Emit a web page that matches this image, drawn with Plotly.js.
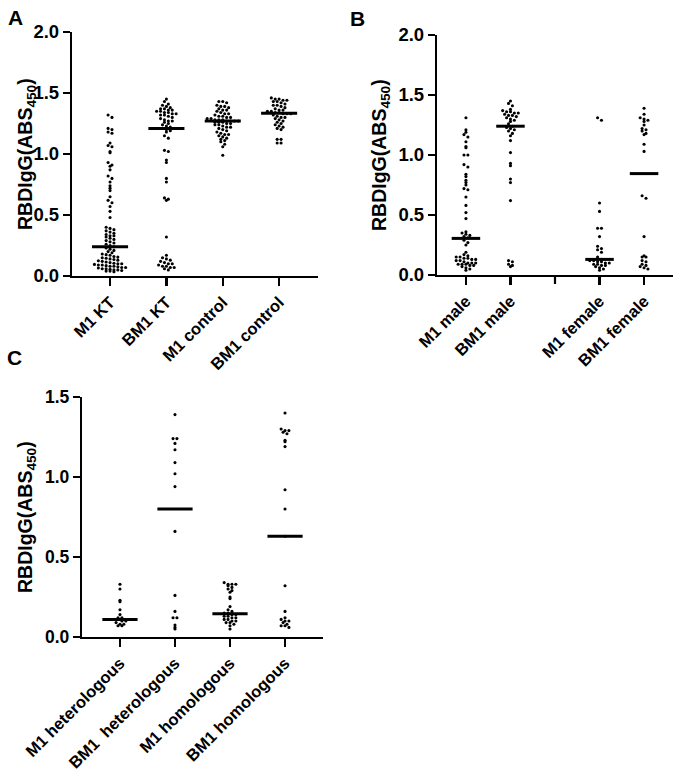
<!DOCTYPE html>
<html>
<head>
<meta charset="utf-8">
<script src="https://cdn.plot.ly/plotly-3.0.1.min.js"></script>
<style>
  html, body { margin: 0; padding: 0; background: #fff; }
  #chart { width: 685px; height: 778px; }
</style>
</head>
<body>
<div id="chart"></div>
<script>
// Panel A: kidney transplant vs control
const catsA = ['M1 KT', 'BM1 KT', 'M1 control', 'BM1 control'];
const m1KT = [1.32, 1.30, 1.21, 1.20, 1.18, 1.17, 1.09, 1.07, 1.06, 1.02, 1.01, 0.93, 0.91, 0.90, 0.87,
  0.82, 0.80, 0.77, 0.74, 0.72, 0.70, 0.65, 0.62, 0.60, 0.57, 0.53, 0.48,
  0.40, 0.39, 0.38, 0.37, 0.36, 0.35, 0.34, 0.33, 0.33, 0.32, 0.31, 0.30, 0.29, 0.28, 0.27, 0.26, 0.25,
  0.24, 0.23, 0.22, 0.21,
  0.20, 0.19, 0.18, 0.175, 0.17, 0.16, 0.155, 0.15, 0.145, 0.14, 0.135, 0.13, 0.125, 0.12, 0.115, 0.11,
  0.105, 0.10, 0.10, 0.095, 0.09, 0.09, 0.085, 0.08, 0.08, 0.075, 0.07, 0.07, 0.065, 0.06, 0.06, 0.055,
  0.05, 0.05, 0.045, 0.04, 0.04, 0.035];
const bm1KT = [1.45, 1.43, 1.41, 1.40, 1.39, 1.38, 1.37, 1.37, 1.36, 1.36, 1.35, 1.35, 1.34, 1.34, 1.33,
  1.33, 1.32, 1.32, 1.31, 1.30, 1.29, 1.28, 1.27, 1.27, 1.26, 1.25, 1.24, 1.23, 1.22, 1.21, 1.20, 1.19,
  1.18, 1.15, 1.13, 1.03, 1.02, 0.95, 0.93, 0.80, 0.77, 0.64, 0.63, 0.62, 0.32,
  0.17, 0.15, 0.14, 0.13, 0.12, 0.11, 0.10, 0.10, 0.09, 0.08, 0.08, 0.07, 0.07, 0.06, 0.05];
const m1Control = [1.43, 1.43, 1.42, 1.40, 1.39, 1.39, 1.38, 1.37, 1.36, 1.36, 1.35, 1.34, 1.33, 1.33,
  1.32, 1.31, 1.31, 1.30, 1.30, 1.29, 1.29, 1.28, 1.28, 1.28, 1.27, 1.27, 1.27, 1.27, 1.26, 1.26, 1.26,
  1.25, 1.25, 1.24, 1.24, 1.23, 1.22, 1.22, 1.21, 1.20, 1.19, 1.18, 1.17, 1.16, 1.16, 1.15, 1.14, 1.13,
  1.12, 1.11, 1.10, 1.08, 1.06, 0.99];
const bm1Control = [1.46, 1.45, 1.45, 1.44, 1.44, 1.43, 1.43, 1.42, 1.41, 1.40, 1.40, 1.39, 1.38, 1.37,
  1.36, 1.36, 1.35, 1.35, 1.34, 1.34, 1.33, 1.33, 1.33, 1.32, 1.31, 1.30, 1.30, 1.29, 1.28, 1.27, 1.26,
  1.25, 1.24, 1.23, 1.22, 1.21, 1.20, 1.12, 1.12, 1.09, 1.09];
const mediansA = [0.24, 1.21, 1.27, 1.335];

// Panel B: by sex (slot 2 is an empty spacer with only a tick)
const catsB = ['M1 male', 'BM1 male', 'M1 female', 'BM1 female'];
const posB = [0, 1, 3, 4];
const m1Male = [1.31, 1.21, 1.19, 1.17, 1.15, 1.11, 1.07, 1.06, 1.00, 1.00, 0.92, 0.90, 0.84, 0.82, 0.79,
  0.77, 0.75, 0.72, 0.71, 0.65, 0.58, 0.52, 0.47, 0.36, 0.35, 0.34, 0.33, 0.32, 0.31, 0.29, 0.27, 0.25,
  0.19, 0.17, 0.16, 0.15, 0.15, 0.14, 0.14, 0.13, 0.13, 0.12, 0.12, 0.11, 0.10, 0.10, 0.10, 0.09, 0.09,
  0.09, 0.08, 0.08, 0.07, 0.06, 0.05, 0.04];
const bm1Male = [1.45, 1.43, 1.41, 1.38, 1.37, 1.36, 1.36, 1.35, 1.35, 1.34, 1.33, 1.33, 1.32, 1.31, 1.30,
  1.29, 1.28, 1.26, 1.24, 1.23, 1.22, 1.21, 1.20, 1.18, 1.16, 1.12, 1.02, 0.93, 0.91, 0.80, 0.77, 0.62,
  0.12, 0.11, 0.09, 0.08, 0.07];
const m1Female = [1.31, 1.29, 0.60, 0.53, 0.39, 0.39, 0.32, 0.24, 0.22, 0.21, 0.19, 0.15, 0.13, 0.12, 0.12,
  0.11, 0.11, 0.10, 0.10, 0.09, 0.09, 0.08, 0.08, 0.07, 0.06, 0.05, 0.04];
const bm1Female = [1.39, 1.34, 1.31, 1.30, 1.29, 1.28, 1.25, 1.22, 1.21, 1.20, 1.18, 1.17, 1.09, 1.03,
  0.66, 0.64, 0.32, 0.16, 0.15, 0.15, 0.12, 0.11, 0.09, 0.08, 0.07, 0.06, 0.05];
const mediansB = [0.305, 1.24, 0.13, 0.845];

// Panel C: heterologous vs homologous
const catsC = ['M1 heterologous', 'BM1 \u00a0heterologous', 'M1 homologous', 'BM1 homologous'];
const m1Hetero = [0.33, 0.30, 0.23, 0.22, 0.17, 0.14, 0.12, 0.12, 0.11, 0.11, 0.10, 0.10, 0.09, 0.08, 0.08, 0.07, 0.07];
const bm1Hetero = [1.39, 1.24, 1.24, 1.21, 1.17, 1.09, 1.02, 0.94, 0.66, 0.26, 0.16, 0.12, 0.12, 0.075, 0.06, 0.05];
const m1Homo = [0.34, 0.33, 0.33, 0.33, 0.32, 0.31, 0.30, 0.29, 0.28, 0.25, 0.24, 0.19, 0.17, 0.16, 0.15, 0.15,
  0.14, 0.14, 0.13, 0.13, 0.12, 0.12, 0.11, 0.11, 0.10, 0.10, 0.09, 0.09, 0.08, 0.07, 0.05];
const bm1Homo = [1.40, 1.30, 1.29, 1.29, 1.28, 1.27, 1.23, 1.22, 1.19, 0.92, 0.80, 0.63,
  0.32, 0.16, 0.12, 0.11, 0.10, 0.10, 0.09, 0.08, 0.07, 0.07, 0.06];
const mediansC = [0.11, 0.80, 0.145, 0.63];

const W = 685, H = 778;
const FONT = 'Liberation Sans, Arial, sans-serif';
const TITLE = 'RBDIgG(ABS<sub>450</sub>)';

// pixel boxes of each panel: left/right of x axis, top/bottom of y axis
const panels = [
  { id: '', left: 72, right: 318, top: 32, bottom: 276, xr: [-0.675, 3.69], yr: [0, 2],
    cats: catsA, pos: [0, 1, 2, 3], spacer: [],
    groups: [m1KT, bm1KT, m1Control, bm1Control], medians: mediansA, tickSize: 18.5 },
  { id: '2', left: 437, right: 673, top: 35, bottom: 275, xr: [-0.65, 4.65], yr: [0, 2],
    cats: catsB, pos: posB, spacer: [2],
    groups: [m1Male, bm1Male, m1Female, bm1Female], medians: mediansB, tickSize: 18.5 },
  { id: '3', left: 82, right: 323, top: 397, bottom: 637, xr: [-0.69, 3.69], yr: [0, 1.5],
    cats: catsC, pos: [0, 1, 2, 3], spacer: [],
    groups: [m1Hetero, bm1Hetero, m1Homo, bm1Homo], medians: mediansC, tickSize: 17.5 }
];

// Prism-style scatter: bin values into rows one dot tall, centre each row's dots side by side
function spread(values, center, pxX, pxY, rowH, gap) {
  const rows = {};
  values.forEach((v, i) => {
    const r = Math.round(v * pxY / rowH);
    (rows[r] = rows[r] || []).push(i);
  });
  const xs = new Array(values.length);
  Object.keys(rows).forEach(r => {
    const idx = rows[r];
    idx.forEach((i, j) => {
      xs[i] = center + (j - (idx.length - 1) / 2) * gap / pxX;
    });
  });
  return xs;
}

const traces = [];
const layout = {
  width: W, height: H,
  margin: { l: 0, r: 0, t: 0, b: 0 },
  paper_bgcolor: 'white', plot_bgcolor: 'white',
  showlegend: false,
  font: { family: FONT, color: '#000' },
  annotations: [],
  shapes: []
};

panels.forEach(p => {
  const pxX = (p.right - p.left) / (p.xr[1] - p.xr[0]);
  const pxY = (p.bottom - p.top) / (p.yr[1] - p.yr[0]);

  p.groups.forEach((vals, i) => {
    traces.push({
      x: spread(vals, p.pos[i], pxX, pxY, 3.4, 3.9), y: vals,
      xaxis: 'x' + p.id, yaxis: 'y' + p.id,
      type: 'scatter', mode: 'markers',
      marker: { color: '#000', size: 3.1 },
      hoverinfo: 'y'
    });
  });

  const mx = [], my = [];
  p.medians.forEach((m, i) => {
    mx.push(p.pos[i] - 0.32, p.pos[i] + 0.32, null);
    my.push(m, m, null);
  });
  traces.push({
    x: mx, y: my, xaxis: 'x' + p.id, yaxis: 'y' + p.id,
    type: 'scatter', mode: 'lines',
    line: { color: '#000', width: 3 }, hoverinfo: 'skip'
  });

  // unlabeled tick for the empty spacer slot
  p.spacer.forEach(s => {
    layout.shapes.push({
      type: 'line', xref: 'x' + p.id, yref: 'paper', layer: 'above',
      x0: s, x1: s, y0: 1 - (p.bottom + 1) / H, y1: 1 - (p.bottom + 9) / H,
      line: { color: '#000', width: 2.2 }
    });
  });

  layout['xaxis' + p.id] = {
    domain: [p.left / W, p.right / W], range: p.xr,
    anchor: 'y' + p.id,
    tickmode: 'array', tickvals: p.pos, ticktext: p.cats,
    tickangle: -45,
    tickfont: { family: FONT, size: 16.5, weight: 'bold', color: '#000' },
    showline: true, linecolor: '#000', linewidth: 2.2,
    ticks: 'outside', ticklen: 8, tickwidth: 2.2, tickcolor: '#000',
    showgrid: false, zeroline: false, fixedrange: true
  };
  layout['yaxis' + p.id] = {
    domain: [1 - p.bottom / H, 1 - p.top / H], range: p.yr,
    anchor: 'x' + p.id,
    dtick: 0.5, tick0: 0, tickformat: '.1f',
    tickfont: { family: FONT, size: p.tickSize, weight: 'bold', color: '#000' },
    showline: true, linecolor: '#000', linewidth: 2.2,
    ticks: 'outside', ticklen: 7, tickwidth: 2.2, tickcolor: '#000',
    showgrid: false, zeroline: false, fixedrange: true
  };
});

// y-axis titles and panel letters
const yTitles = [
  { x: 26, y: 154 },
  { x: 380, y: 155 },
  { x: 26, y: 517 }
];
yTitles.forEach(t => {
  layout.annotations.push({
    text: TITLE, textangle: -90, showarrow: false,
    xref: 'paper', yref: 'paper', x: t.x / W, y: 1 - t.y / H,
    xanchor: 'center', yanchor: 'middle',
    font: { family: FONT, size: 19.5, weight: 'bold', color: '#000' }
  });
});
[['A', 15, 17], ['B', 357, 18], ['C', 14, 357]].forEach(([txt, x, y]) => {
  layout.annotations.push({
    text: txt, showarrow: false,
    xref: 'paper', yref: 'paper', x: x / W, y: 1 - y / H,
    xanchor: 'center', yanchor: 'middle',
    font: { family: FONT, size: 21, weight: 'bold', color: '#000' }
  });
});

Plotly.newPlot('chart', traces, layout, { displayModeBar: false, staticPlot: true });
</script>
</body>
</html>
